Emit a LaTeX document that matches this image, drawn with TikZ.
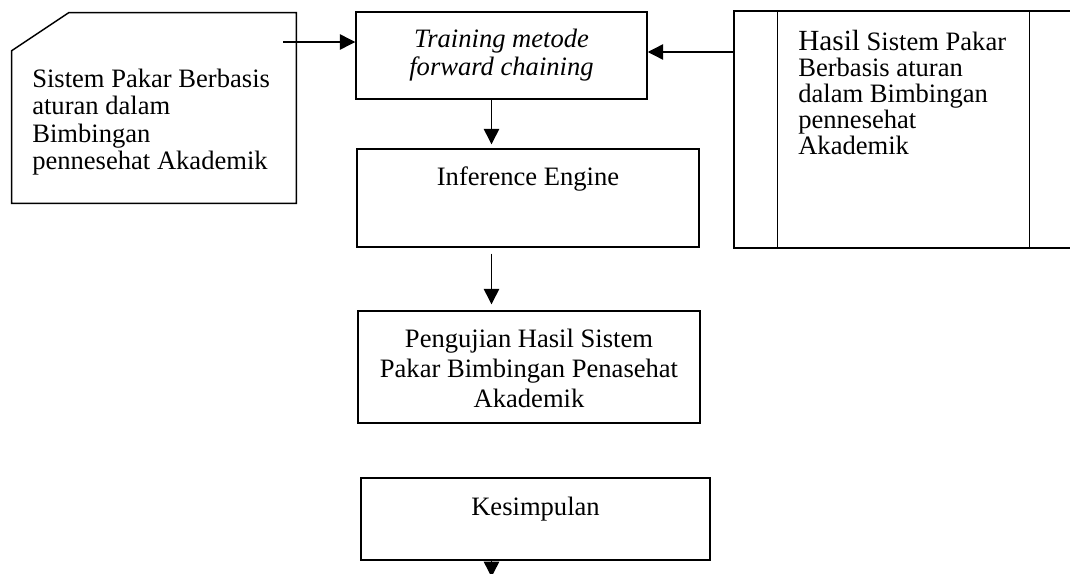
\documentclass[tikz,border=0pt]{standalone}
\usepackage{fontspec}
\setmainfont{Liberation Serif}
\usetikzlibrary{arrows.meta,positioning,calc}
\tikzset{
    flowBox/.style={
        draw=black,
        line width=1pt,
        inner sep=0pt
    },
    cardBox/.style={inner sep=0pt, minimum width=7.1cm, minimum height=4.75cm},
    processBox/.style={flowBox, minimum width=8.9cm, minimum height=5.925cm},
    bodyText/.style={inner sep=0pt, font=\fontsize{18.9}{19.3}\selectfont},
}

\begin{document}
\begin{tikzpicture}[x=0.025cm, y=-0.025cm,
    arrow/.style={-{Triangle[length=11pt, width=11pt]}, line width=1pt}
]
    \useasboundingbox (0,0) rectangle (1070,573);

    % Input card (cut corner top left)
    \node[cardBox] (card) at (154,108) {};
    \draw[line width=1pt] (card.south west) -- ([yshift=-0.95cm]card.north west)
        -- ([xshift=1.425cm]card.north west) -- (card.north east)
        -- (card.south east) -- cycle;
    \node[bodyText, anchor=north west, align=left] (cardtext) at (32,69) {Sistem Pakar Berbasis\\aturan dalam\\Bimbingan\\pennesehat Akademik};
    \coordinate (cardout) at (283,42);

    % Training box
    \node[flowBox, minimum width=7.275cm, minimum height=2.175cm] (train) at (501.5,55.5) {};
    \node[bodyText, anchor=north, align=center, font=\fontsize{18.9}{19.84}\selectfont\itshape] (traintext) at (501.5,29) {Training metode\\forward chaining};

    % Result box (predefined process)
    \node[processBox] (hasil) at (912,129.5) {};
    \draw[line width=1pt] ([xshift=1.1cm]hasil.north west) -- ([xshift=1.1cm]hasil.south west);
    \draw[line width=1pt] ([xshift=7.4cm]hasil.north west) -- ([xshift=7.4cm]hasil.south west);
    \node[bodyText, anchor=north west, align=left, font=\fontsize{18.9}{18.43}\selectfont] (hasiltext) at (798,30) {{\fontsize{20.8}{18.43}\selectfont Hasil} Sistem Pakar\\Berbasis aturan\\dalam Bimbingan\\pennesehat\\Akademik};
    \coordinate (hasilin) at (734,52);

    % Inference engine
    \node[flowBox, minimum width=8.55cm, minimum height=2.45cm] (infer) at (528,198) {};
    \node[bodyText, anchor=base] (infertext) at (528,185) {Inference Engine};

    % Testing
    \node[flowBox, minimum width=8.55cm, minimum height=2.8cm] (uji) at (529,367) {};
    \node[bodyText, anchor=north, align=center, font=\fontsize{18.9}{21.3}\selectfont] (ujitext) at (529,329) {Pengujian Hasil Sistem\\Pakar Bimbingan Penasehat\\Akademik};

    % Conclusion
    \node[flowBox, minimum width=8.725cm, minimum height=2.05cm] (simpul) at (535.5,519) {};
    \node[bodyText, anchor=base] (simpultext) at (535.5,515) {Kesimpulan};

    % Connectors
    \coordinate (colx) at (491.5,0);
    \coordinate (bawah) at (491.5,577);
    \draw[arrow] (cardout) -- (cardout -| train.west);
    \draw[arrow] (hasilin) -- (hasilin -| train.east);
    \draw[arrow, shorten >=0.1cm] (train.south -| colx) -- (infer.north -| colx);
    \draw[arrow, shorten <=0.15cm, shorten >=0.15cm] (infer.south -| colx) -- (uji.north -| colx);
    \draw[arrow] (simpul.south -| colx) -- (bawah);

\end{tikzpicture}
\end{document}
